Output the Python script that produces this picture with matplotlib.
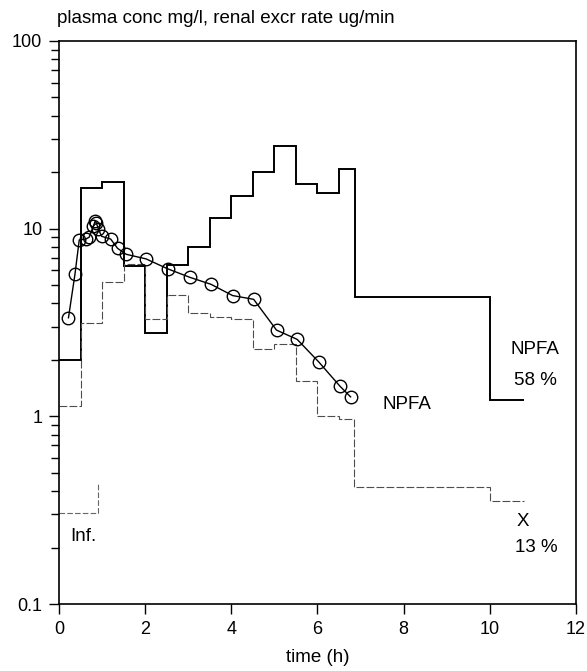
import matplotlib.pyplot as plt
from matplotlib.ticker import FixedLocator, NullFormatter, FixedFormatter
import numpy as np

plt.rcParams['font.family'] = ['Liberation Sans', 'DejaVu Sans']

# plasma concentration of NPFA (mg/l)
plasma_t = [0.22, 0.37, 0.47, 0.62, 0.70, 0.80, 0.84, 0.87, 0.91, 0.99, 1.20, 1.36,
            1.56, 2.02, 2.53, 3.04, 3.53, 4.03, 4.52, 5.05, 5.53, 6.03, 6.52, 6.77]
plasma_c = [3.35, 5.7, 8.7, 8.8, 9.0, 10.3, 11.0, 10.7, 10.0, 9.1, 8.8, 7.85,
            7.3, 6.9, 6.1, 5.5, 5.05, 4.4, 4.2, 2.88, 2.57, 1.95, 1.45, 1.27]

# renal excretion rate of NPFA (ug/min), urine collection periods
npfa_edges = [0, 0.5, 1.0, 1.5, 2.0, 2.5, 3.0, 3.5, 4.0, 4.5, 5.0, 5.5, 6.0, 6.5, 6.88, 10.0, 10.8]
npfa_rate = [2.0, 16.4, 17.8, 6.3, 2.77, 6.4, 8.0, 11.4, 14.9, 20.1, 27.5, 17.3, 15.4, 20.8, 4.34, 1.22]

# renal excretion rate of metabolite X (ug/min)
x_edges = [0, 0.5, 1.0, 1.5, 2.0, 2.5, 3.0, 3.5, 4.0, 4.5, 5.0, 5.5, 6.0, 6.5, 6.85, 10.0, 10.8]
x_rate = [1.13, 3.16, 5.2, 6.5, 3.3, 4.45, 3.55, 3.4, 3.3, 2.29, 2.42, 1.54, 1.0, 0.97, 0.42, 0.355]

# infusion
inf_t = [0, 0.91, 0.91]
inf_v = [0.306, 0.306, 0.44]

fig = plt.figure(figsize=(5.87, 6.71), dpi=100)
ax = fig.add_axes([0.1005, 0.0998, 0.8805, 0.8392])

ax.stairs(npfa_rate, npfa_edges, baseline=None, color='k', lw=1.4)
ax.stairs(x_rate, x_edges, baseline=None, color='0.3', lw=0.8, ls=(0, (7, 2)))
ax.plot(inf_t, inf_v, color='0.4', lw=0.8, ls=(0, (5, 2)))
ax.plot(plasma_t, plasma_c, '-', color='k', lw=1.0, marker='o', ms=9,
        mfc='none', mec='k', mew=1.0)

ax.set_yscale('log')
ax.set_xlim(0, 12)
ax.set_ylim(0.1, 100)
ax.set_xticks(range(0, 13, 2))
ax.yaxis.set_major_locator(FixedLocator([0.1, 1, 10, 100]))
ax.yaxis.set_major_formatter(FixedFormatter(['0.1', '1', '10', '100']))
ax.yaxis.set_minor_locator(FixedLocator([m * 10.0 ** e for e in (-1, 0, 1) for m in range(2, 10)]))
ax.yaxis.set_minor_formatter(NullFormatter())
ax.tick_params(axis='both', which='major', direction='out', length=7, width=1.0, labelsize=13, pad=5)
ax.tick_params(axis='y', which='minor', direction='out', length=6, width=1.0)
for s in ax.spines.values():
    s.set_linewidth(1.2)

ax.set_xlabel('time (h)', fontsize=13.5, labelpad=8)
fig.text(0.097, 0.973, 'plasma conc mg/l, renal excr rate ug/min', fontsize=13.5, ha='left', va='center')

ax.text(8.07, 1.15, 'NPFA', fontsize=13.5, ha='center', va='center')
ax.text(11.05, 2.26, 'NPFA', fontsize=13.5, ha='center', va='center')
ax.text(11.07, 1.56, '58 %', fontsize=13.5, ha='center', va='center')
ax.text(10.77, 0.274, 'X', fontsize=13.5, ha='center', va='center')
ax.text(11.09, 0.199, '13 %', fontsize=13.5, ha='center', va='center')
ax.text(0.26, 0.229, 'Inf.', fontsize=13.5, ha='left', va='center')

plt.savefig('out.png', dpi=100)
